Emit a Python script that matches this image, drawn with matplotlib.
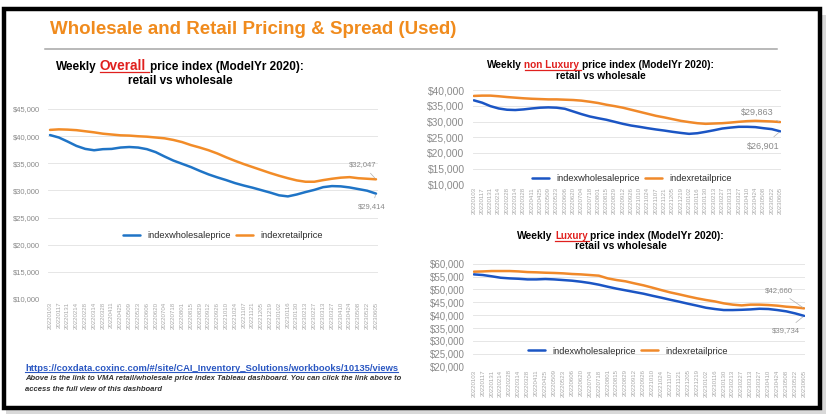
import matplotlib
matplotlib.use('Agg')
import matplotlib.pyplot as plt
import matplotlib.ticker as mticker
from matplotlib.lines import Line2D
from matplotlib.patches import Rectangle

plt.rcParams['font.family'] = ['Liberation Sans', 'DejaVu Sans']

W, H = 826, 416

## data (biweekly points)
weeks = ['20220103', '20220117', '20220131', '20220214', '20220228', '20220314',
         '20220328', '20220411', '20220425', '20220509', '20220523', '20220606',
         '20220620', '20220704', '20220718', '20220801', '20220815', '20220829',
         '20220912', '20220926', '20221010', '20221024', '20221107', '20221121',
         '20221205', '20221219', '20230102', '20230116', '20230130', '20230213',
         '20230227', '20230313', '20230327', '20230410', '20230424', '20230508',
         '20230522', '20230605']

overall_wholesale = [40200, 39750, 39000, 38200, 37650, 37400, 37600, 37650, 37900, 38000,
                     37900, 37600, 37050, 36250, 35500, 34900, 34300, 33600, 32950, 32400,
                     31900, 31350, 30900, 30500, 30050, 29600, 29100, 28900, 29250, 29700,
                     30100, 30600, 30800, 30750, 30550, 30250, 29950, 29414]
overall_retail = [41150, 41250, 41200, 41100, 40900, 40700, 40450, 40300, 40150, 40100,
                  39980, 39900, 39750, 39600, 39300, 38900, 38350, 37900, 37400, 36800,
                  36100, 35450, 34850, 34300, 33750, 33200, 32700, 32250, 31850, 31600,
                  31600, 31900, 32150, 32350, 32450, 32250, 32150, 32047]

nonlux_wholesale = [36800, 36050, 34950, 34200, 33800, 33700, 33900, 34200, 34450, 34550,
                    34450, 34100, 33250, 32400, 31650, 31100, 30600, 29950, 29300, 28750,
                    28350, 27900, 27500, 27150, 26750, 26400, 26100, 26300, 26750, 27250,
                    27800, 28100, 28350, 28350, 28250, 27900, 27600, 26901]
nonlux_retail = [38200, 38300, 38300, 38100, 37850, 37650, 37450, 37300, 37200, 37100,
                 37100, 37000, 36900, 36700, 36350, 35950, 35400, 34950, 34450, 33800,
                 33150, 32500, 31850, 31350, 30800, 30250, 29850, 29500, 29300, 29400,
                 29500, 29700, 29950, 30150, 30250, 30150, 30050, 29863]

lux_wholesale = [55850, 55600, 55100, 54550, 54300, 54150, 53900, 53900, 54050, 53900,
                 53650, 53400, 53000, 52500, 51850, 51050, 50300, 49650, 49000, 48350,
                 47550, 46800, 46000, 45250, 44450, 43700, 42900, 42400, 42000, 42000,
                 42100, 42250, 42500, 42400, 42000, 41500, 40700, 39734]
lux_retail = [56900, 57000, 57150, 57150, 57150, 57000, 56750, 56650, 56500, 56400,
              56250, 56000, 55850, 55600, 55350, 54300, 53650, 53150, 52350, 51600,
              50700, 49750, 48850, 48100, 47300, 46550, 45900, 45350, 44600, 44100,
              43800, 44100, 44100, 43950, 43700, 43300, 43050, 42660]

link = 'https://coxdata.coxinc.com/#/site/CAI_Inventory_Solutions/workbooks/10135/views'
note1 = ('Above is the link to VMA retail/wholesale price index Tableau dashboard. '
         'You can click the link above to')
note2 = 'access the full view of this dashboard'


def fx(px):
    return px / W


def fy(py):
    return 1 - py / H


def add_ax(x0, y0, x1, y1):
    return fig.add_axes([fx(x0), fy(y1), (x1 - x0) / W, (y1 - y0) / H])


def draw_chart(ax, wholesale, retail, ylim, blue, orange, ytick_fs, ann_fs,
               ann_r, ann_w, leg_xy, pad):
    x = list(range(len(weeks)))
    ax.plot(x, wholesale, color=blue, lw=1.8, label='indexwholesaleprice',
            solid_capstyle='round')
    ax.plot(x, retail, color=orange, lw=1.8, label='indexretailprice',
            solid_capstyle='round')
    ax.set_xlim(-pad, len(weeks) - 1 + pad)
    ax.set_ylim(*ylim)
    ax.set_yticks(range(ylim[0], ylim[1] + 1, 5000))
    ax.yaxis.set_major_formatter(mticker.StrMethodFormatter('${x:,.0f}'))
    ax.set_xticks(x)
    ax.set_xticklabels(weeks, rotation=90, fontsize=4.4, color='#a8a8a8')
    ax.tick_params(axis='x', length=0, pad=2)
    ax.tick_params(axis='y', length=0, pad=6, labelsize=ytick_fs, labelcolor='#8a8a8a')
    ax.grid(axis='y', color='#e6e6e6', lw=0.7)
    ax.set_axisbelow(True)
    for s in ax.spines.values():
        s.set_visible(False)
    ax.set_facecolor('none')
    aprops = dict(arrowstyle='-', color='#b0b0b0', lw=0.5, shrinkA=2, shrinkB=1)
    ax.annotate(f'${retail[-1]:,}', xy=(x[-1], retail[-1]), xytext=ann_r,
                textcoords='offset points', ha='center', va='center',
                fontsize=ann_fs, color='#8a8a8a', arrowprops=aprops)
    ax.annotate(f'${wholesale[-1]:,}', xy=(x[-1], wholesale[-1]), xytext=ann_w,
                textcoords='offset points', ha='center', va='center',
                fontsize=ann_fs, color='#8a8a8a', arrowprops=aprops)
    ax.legend(loc='center', bbox_to_anchor=(fx(leg_xy[0]), fy(leg_xy[1])),
              bbox_transform=fig.transFigure, ncol=2, frameon=False, fontsize=6.7,
              handlelength=1.8, handletextpad=0.8, columnspacing=0.6,
              labelcolor='#2b2b2b')


def rich_line(xc, yb, parts, underline_color='#e0201e'):
    # parts: (text, color, size, underline)
    r = fig.canvas.get_renderer()
    items = []
    total = 0
    for s, c, fs, u in parts:
        t = fig.text(0, fy(yb), s, color=c, fontsize=fs, fontweight='bold',
                     ha='left', va='baseline')
        w = t.get_window_extent(r).width
        items.append((t, w, u, fs))
        total += w
    sp = []
    for _, _, _, fs in items:
        a = fig.text(0, 0, 'x x', fontsize=fs, fontweight='bold')
        b = fig.text(0, 0, 'xx', fontsize=fs, fontweight='bold')
        sp.append(a.get_window_extent(r).width - b.get_window_extent(r).width)
        a.remove()
        b.remove()
    total += sum(sp[:-1])
    x = xc - total / 2
    for (t, w, u, fs), s in zip(items, sp):
        t.set_x(fx(x))
        if u:
            fig.add_artist(Line2D([fx(x), fx(x + w + s * 0.6)], [fy(yb + 1.5)] * 2,
                                  color=underline_color, lw=0.9))
        x += w + s


fig = plt.figure(figsize=(W / 100, H / 100), dpi=100)

# slide frame with a soft shadow
fig.add_artist(Rectangle((fx(6), fy(414)), fx(820), (410 - 11) / H,
                         transform=fig.transFigure, facecolor='#d9d9d9',
                         edgecolor='none', zorder=-3))
fig.add_artist(Rectangle((fx(3.5), fy(407.5)), fx(816), 399 / H,
                         transform=fig.transFigure, facecolor='white',
                         edgecolor='black', lw=3.2, zorder=-2))

fig.text(fx(50), fy(33.5), 'Wholesale and Retail Pricing & Spread (Used)',
         color='#f08b1d', fontsize=13.5, fontweight='bold', ha='left', va='baseline')
fig.add_artist(Line2D([fx(45), fx(777)], [fy(48.5)] * 2, color='#a6a6a6', lw=1.1))

# left chart: overall
ax1 = add_ax(48, 109, 378, 299)
draw_chart(ax1, overall_wholesale, overall_retail, (10000, 45000),
           '#1f74c6', '#f28c28', 5.4, 5.5, (-9.4, 10.4), (-2.9, -9.5), (223, 235.7), 0.23)

# top right: non luxury
ax2 = add_ax(473, 90.3, 781, 184.3)
draw_chart(ax2, nonlux_wholesale, nonlux_retail, (10000, 40000),
           '#1b55c4', '#f0892a', 7.4, 6.5, (-16.6, 7.2), (-12.2, -10.5), (632, 178.7), 0.1)

# bottom right: luxury
ax3 = add_ax(473, 263.7, 805, 366.7)
draw_chart(ax3, lux_wholesale, lux_retail, (20000, 60000),
           '#1b55c4', '#f0892a', 7.0, 5.6, (-18.5, 12.7), (-13, -10.6), (628, 351), 0.1)

red = '#e0201e'
rich_line(180, 70, [('Weekly', 'black', 8.5, False), ('Overall', red, 9.8, True),
                    ('price index (ModelYr 2020):', 'black', 8.5, False)])
rich_line(180, 83.7, [('retail vs wholesale', 'black', 8.5, False)])
rich_line(600.5, 68.3, [('Weekly', 'black', 7.3, False), ('non Luxury', red, 7.3, True),
                        ('price index (ModelYr 2020):', 'black', 7.3, False)])
rich_line(600.5, 79.3, [('retail vs wholesale', 'black', 7.3, False)])
rich_line(620.5, 239, [('Weekly', 'black', 7.4, False), ('Luxury', red, 7.0, True),
                       ('price index (ModelYr 2020):', 'black', 7.4, False)])
rich_line(620.5, 249.3, [('retail vs wholesale', 'black', 7.4, False)])

# link and note at the bottom
r = fig.canvas.get_renderer()
lt = fig.text(fx(25), fy(370.7), link, color='#2a57c2', fontsize=6.75,
              fontweight='bold', ha='left', va='baseline')
lw_px = lt.get_window_extent(r).width
fig.add_artist(Line2D([fx(25), fx(25 + lw_px)], [fy(372)] * 2, color='#2a57c2', lw=0.8))
fig.text(fx(25), fy(380.5), note1, color='#333333', fontsize=5.5, fontweight='bold',
         fontstyle='italic', ha='left', va='baseline')
fig.text(fx(25), fy(391), note2, color='#333333', fontsize=5.5, fontweight='bold',
         fontstyle='italic', ha='left', va='baseline')

fig.savefig('out.png', dpi=100)
